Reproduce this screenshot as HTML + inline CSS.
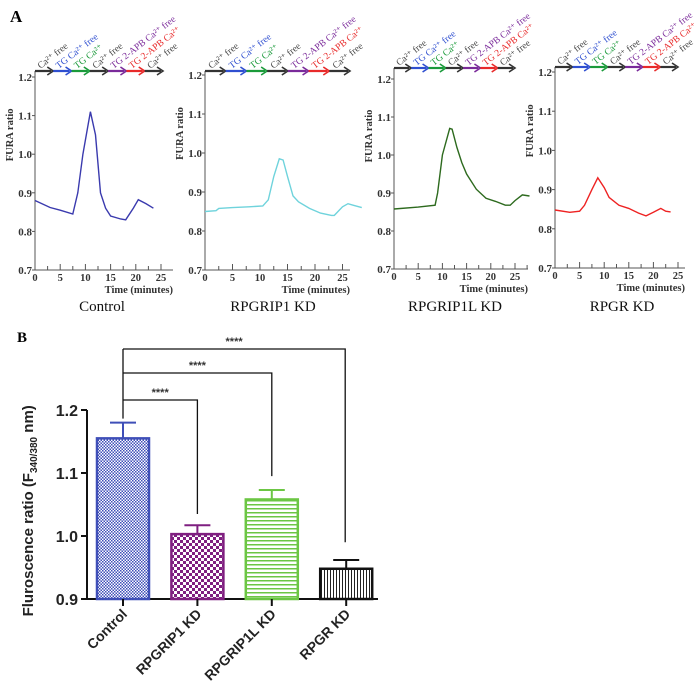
<!DOCTYPE html>
<html><head><meta charset="utf-8"><style>
body{margin:0;background:#fff;width:700px;height:684px;overflow:hidden}
svg{display:block}
.serif{font-family:"Liberation Serif",serif}
.sans{font-family:"Liberation Sans",sans-serif}
</style></head><body>
<svg id="fig" width="700" height="684" viewBox="0 0 700 684" xmlns="http://www.w3.org/2000/svg">
<defs>
<pattern id="pBlue" width="3" height="3" patternUnits="userSpaceOnUse"><rect width="3" height="3" fill="#fff"/><rect width="1.5" height="1.5" fill="#3f4fb8"/><rect x="1.5" y="1.5" width="1.5" height="1.5" fill="#3f4fb8"/></pattern>
<pattern id="pPurple" width="6" height="6" patternUnits="userSpaceOnUse"><rect width="6" height="6" fill="#fff"/><rect width="3" height="3" fill="#7f1f80"/><rect x="3" y="3" width="3" height="3" fill="#7f1f80"/></pattern>
<pattern id="pGreen" width="4" height="4" patternUnits="userSpaceOnUse"><rect width="4" height="4" fill="#fff"/><rect width="4" height="1.5" fill="#6cc644"/></pattern>
<pattern id="pBlack" width="3" height="3" patternUnits="userSpaceOnUse"><rect width="3" height="3" fill="#fff"/><rect width="1" height="3" fill="#222"/></pattern>
</defs>
<text x="10" y="22" class="serif" font-size="17" font-weight="bold">A</text>
<text x="17" y="342" class="serif" font-size="15" font-weight="bold">B</text>
<g id="panelA"></g>
<g id="panelB"></g>
</svg>
<script>
// ---------- Panel A data ----------
const ctrlT = [0,3,5,7.5,8.5,9.5,11,12,13,14,15,17,18,19.5,20.5,22,23.5];
const ctrlV = [0.88,0.862,0.855,0.845,0.9,1.0,1.11,1.05,0.9,0.86,0.84,0.832,0.83,0.86,0.882,0.872,0.86];
const rp1T = [0,2,2.5,5,8,10.5,11.5,12.5,13.5,14.2,15,16,17,19,21,23,23.5,25,26,27,28.5];
const rp1V = [0.85,0.852,0.858,0.86,0.862,0.864,0.88,0.94,0.985,0.982,0.94,0.89,0.875,0.858,0.846,0.84,0.84,0.862,0.87,0.866,0.86];
const rp1lT = [0,5,8.5,9,10,11.5,12,13,14,15,17,19,21,23,24,25,26.5,28];
const rp1lV = [0.858,0.863,0.868,0.9,1.0,1.07,1.068,1.02,0.98,0.95,0.91,0.886,0.878,0.868,0.868,0.88,0.895,0.892];
const rpgrT = [0,3,5,6,7.5,8.7,10,11,13,15,17,18.5,20,21.5,22.5,23.5];
const rpgrV = [0.848,0.842,0.845,0.86,0.9,0.93,0.905,0.88,0.86,0.852,0.84,0.833,0.842,0.852,0.845,0.843];
const yTicksA = [0.7,0.8,0.9,1.0,1.1,1.2];
const xTicksA = [0,5,10,15,20,25];
const stepLabels = ["Ca²⁺ free","TG Ca²⁺ free","TG Ca²⁺","Ca²⁺ free","TG 2-APB Ca²⁺ free","TG 2-APB Ca²⁺","Ca²⁺ free"];
const stepColors = ["#333","#2f4fd0","#1a9a3a","#333","#7a2a9a","#e82a2a","#333"];

// ---------- Panel B data ----------
const groups = ["Control","RPGRIP1 KD","RPGRIP1L KD","RPGR KD"];
const means = [1.155,1.003,1.058,0.948];
const errs = [0.025,0.014,0.015,0.014];
const yTicksB = [0.9,1.0,1.1,1.2];
const sigLabels = ["****","****","****"];

const NS="http://www.w3.org/2000/svg";
function mk(tag,attrs,parent,text){const e=document.createElementNS(NS,tag);for(const k in attrs)e.setAttribute(k,attrs[k]);if(text!==undefined)e.textContent=text;parent.appendChild(e);return e;}

const panels=[
 {ox:35,y12:77,y07:270,ppm:5.04,xend:173,bar:71,barEnd:163,col:"#3a3aae",T:ctrlT,V:ctrlV,title:"Control",tx:102,name:"control"},
 {ox:205,y12:75,y07:270,ppm:5.5,xend:350,bar:71,barEnd:350,col:"#6fd3dc",T:rp1T,V:rp1V,title:"RPGRIP1 KD",tx:273,name:"rpgrip1"},
 {ox:394,y12:79,y07:269,ppm:4.84,xend:528,bar:68,barEnd:515,col:"#2d6a1e",T:rp1lT,V:rp1lV,title:"RPGRIP1L KD",tx:455,name:"rpgrip1l"},
 {ox:555,y12:72,y07:268,ppm:4.92,xend:685,bar:67,barEnd:678,col:"#ee2222",T:rpgrT,V:rpgrV,title:"RPGR KD",tx:622,name:"rpgr"}
];
const gA=document.getElementById('panelA');
panels.forEach(p=>{
 const g=mk('g',{},gA);
 
 
 const ys=v=>p.y07-(v-0.7)/0.5*(p.y07-p.y12);
 const xs=t=>p.ox+t*p.ppm;
 const ya=mk('line',{x1:p.ox,y1:p.y07,x2:p.ox,y2:p.bar,stroke:"#555","stroke-width":1},g);
  
 const xa=mk('line',{x1:p.ox,y1:p.y07,x2:p.xend,y2:p.y07,stroke:"#555","stroke-width":1},g);
  
 yTicksA.forEach(v=>{
  mk('line',{x1:p.ox-3,y1:ys(v),x2:p.ox,y2:ys(v),stroke:"#555"},g);
  const t=mk('text',{x:p.ox-3,y:ys(v)+4,"text-anchor":"end","font-size":11,"font-weight":"bold",class:"serif",fill:"#333"},g,v.toFixed(1));
   
 });
 for(let t=0;t*p.ppm<=p.xend-p.ox;t+=2.5){mk('line',{x1:xs(t),y1:p.y07,x2:xs(t),y2:p.y07-(t%5==0?6:4),stroke:"#555"},g);}
 xTicksA.forEach(v=>{
  const t=mk('text',{x:xs(v),y:p.y07+11,"text-anchor":"middle","font-size":10.5,"font-weight":"bold",class:"serif",fill:"#333"},g,v);
   
 });
 const xt=mk('text',{x:p.xend,y:p.y07+23,"text-anchor":"end","font-size":10.5,"font-weight":"bold",class:"serif",fill:"#333"},g,"Time (minutes)");
  
 const yt=mk('text',{transform:`translate(${p.ox-22},${ys(1.05)}) rotate(-90)`,"text-anchor":"middle","font-size":10.5,"font-weight":"bold",class:"serif",fill:"#333"},g,"FURA ratio");
  
 const d=p.T.map((t,i)=>(i?'L':'M')+xs(t).toFixed(1)+','+ys(p.V[i]).toFixed(1)).join(' ');
 const tr=mk('path',{d:d,fill:"none",stroke:p.col,"stroke-width":1.4},g);
  
 const seg=(p.barEnd-p.ox)/7;
 stepLabels.forEach((lab,i)=>{
  const x0=p.ox+i*seg,x1=x0+seg;
  const a=mk('g',{},g);
   
  mk('line',{x1:x0,y1:p.bar,x2:x1-2,y2:p.bar,stroke:stepColors[i],"stroke-width":2.2},a);
  mk('path',{d:`M${x1-6},${p.bar-4} L${x1},${p.bar} L${x1-6},${p.bar+4}`,fill:"none",stroke:stepColors[i],"stroke-width":1.6},a);
  const lt=mk('text',{transform:`translate(${x0+seg*0.3},${p.bar-2}) rotate(-38)`,"font-size":9.5,class:"serif",fill:stepColors[i]==="#333"?"#444":stepColors[i]},a,lab);
   
 });
 const ti=mk('text',{x:p.tx,y:311,"text-anchor":"middle","font-size":15,class:"serif",fill:"#111"},g,p.title);
  
});

// ---------- Panel B ----------
const gB=document.getElementById('panelB');
const bx0=87, by09=599, by12=410;
const yB=v=>by09-(v-0.9)/0.3*(by09-by12);
const xB=i=>123+i*74.4;
const barW=52;
const fills=["url(#pBlue)","url(#pPurple)","url(#pGreen)","url(#pBlack)"];
const strokes=["#3f4fb8","#7f1f80","#6cc644","#111"];
const yaxB=mk('line',{x1:bx0,y1:yB(1.2),x2:bx0,y2:by09+1,stroke:"#111","stroke-width":2},gB);
 
const xaxB=mk('line',{x1:bx0,y1:by09,x2:378,y2:by09,stroke:"#111","stroke-width":2},gB);
 
yTicksB.forEach(v=>{
 mk('line',{x1:bx0-6,y1:yB(v),x2:bx0,y2:yB(v),stroke:"#111","stroke-width":2},gB);
 const t=mk('text',{x:bx0-9,y:yB(v)+6,"text-anchor":"end","font-size":16,"font-weight":"bold",class:"sans",fill:"#222"},gB,v.toFixed(1));
  
});
const ytB=mk('text',{transform:`translate(33,${yB(1.04)}) rotate(-90)`,"text-anchor":"middle","font-size":15,"font-weight":"bold",class:"sans",fill:"#222"},gB);
 
ytB.innerHTML='Fluroscence ratio (F<tspan font-size="10" dy="4">340/380</tspan><tspan dy="-4"> nm)</tspan>';
groups.forEach((gname,i)=>{
 const cx=xB(i);
 const b=mk('rect',{x:cx-barW/2,y:yB(means[i]),width:barW,height:by09-yB(means[i]),fill:fills[i],stroke:strokes[i],"stroke-width":2.5},gB);
 
 
 const e=mk('g',{},gB);
  
 mk('line',{x1:cx,y1:yB(means[i]),x2:cx,y2:yB(means[i]+errs[i]),stroke:strokes[i],"stroke-width":2},e);
 mk('line',{x1:cx-13,y1:yB(means[i]+errs[i]),x2:cx+13,y2:yB(means[i]+errs[i]),stroke:strokes[i],"stroke-width":2},e);
 mk('line',{x1:cx,y1:by09,x2:cx,y2:by09+7,stroke:"#111","stroke-width":2},gB);
 const l=mk('text',{transform:`translate(${cx+5},${by09+16}) rotate(-45)`,"text-anchor":"end","font-size":14,"font-weight":"bold",class:"sans",fill:"#222"},gB,gname);
  
});
const brTop=[400,373,349];
const brBottom=[1.035,1.095,0.99];
[1,2,3].forEach((j,k)=>{
 const g=mk('g',{},gB);
  
 const x0=xB(0),x1=xB(j)-(j==3?1:0);
 mk('path',{d:`M${x0},${brTop[k]} L${x1},${brTop[k]} L${x1},${yB(brBottom[k])}`,fill:"none",stroke:"#111","stroke-width":1.3},g);
 const s=mk('text',{x:(x0+x1)/2,y:brTop[k]-4,"text-anchor":"middle","font-size":11,"font-weight":"bold",class:"sans",fill:"#333"},g,sigLabels[k]);
  
});
const cl=mk('line',{x1:xB(0),y1:brTop[2],x2:xB(0),y2:yB(means[0]+errs[0])-4,stroke:"#111","stroke-width":1.3},gB);
 
</script>
</body></html>
